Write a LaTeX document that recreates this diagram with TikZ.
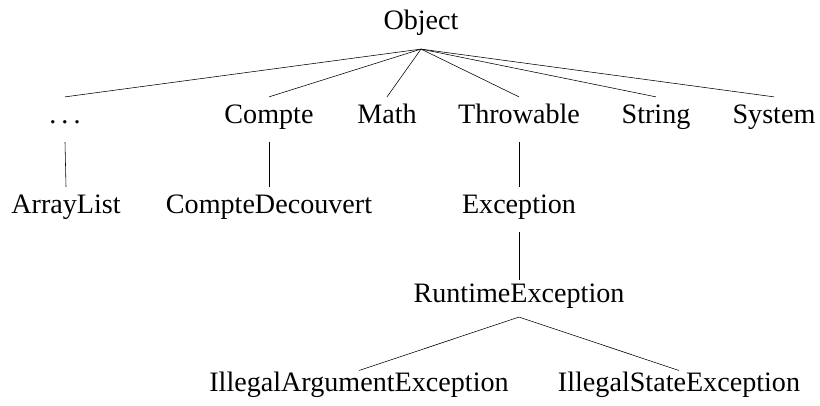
\documentclass[tikz,border=0pt]{standalone}
\usepackage{fontspec}
\setmainfont{Liberation Serif}
\usepackage{tikz}

\begin{document}
\begin{tikzpicture}[x=1cm, y=1cm,
    every node/.style={font=\fontsize{20}{24}\selectfont, anchor=base,
      text height=0.7em, text depth=0.2em, inner xsep=0pt, inner ysep=0.4cm},
    leaf/.style={inner ysep=0.26cm},
    mid/.style={inner ysep=0.3cm}]
    \useasboundingbox (0, 0) rectangle (20.5, 10.125);
    \newcommand\kA{9.375}
    \newcommand\kB{7.05}
    \newcommand\kC{4.8}
    \newcommand\kD{2.575}
    \newcommand\kE{0.35}
    % racine
    \node (obj) at (10.525, \kA) {Object};
    % premier niveau
    \node (dots) at (1.625, \kB) {.\kern0.18em.\kern0.18em.};
    \node (compte) at (6.725, \kB) {Compte};
    \node (math) at (9.675, \kB) {Math};
    \node (throwable) at (12.975, \kB) {Throwable};
    \node (string) at (16.4, \kB) {String};
    \node (system) at (19.35, \kB) {System};
    \foreach \c in {dots, compte, math, throwable, string, system} {
      \draw (obj.south) -- (\c.north);
    }
    % second niveau
    \node (arraylist) at (1.65, \kC) {ArrayList};
    \node (decouvert) at (6.725, \kC) {CompteDecouvert};
    \node (exception) at (12.975, \kC) {Exception};
    \draw (dots.south) -- (arraylist.north);
    \draw (compte.south) -- (decouvert.north);
    \draw (throwable.south) -- (exception.north);
    % exceptions
    \node[mid] (runtime) at (12.975, \kD) {RuntimeException};
    \draw (exception.south) -- (runtime.north);
    \node[leaf] (illarg) at (8.975, \kE) {IllegalArgumentException};
    \node[leaf] (illstate) at (16.975, \kE) {IllegalStateException};
    \draw (runtime.south) -- (illarg.north);
    \draw (runtime.south) -- (illstate.north);
  \end{tikzpicture}
\end{document}
